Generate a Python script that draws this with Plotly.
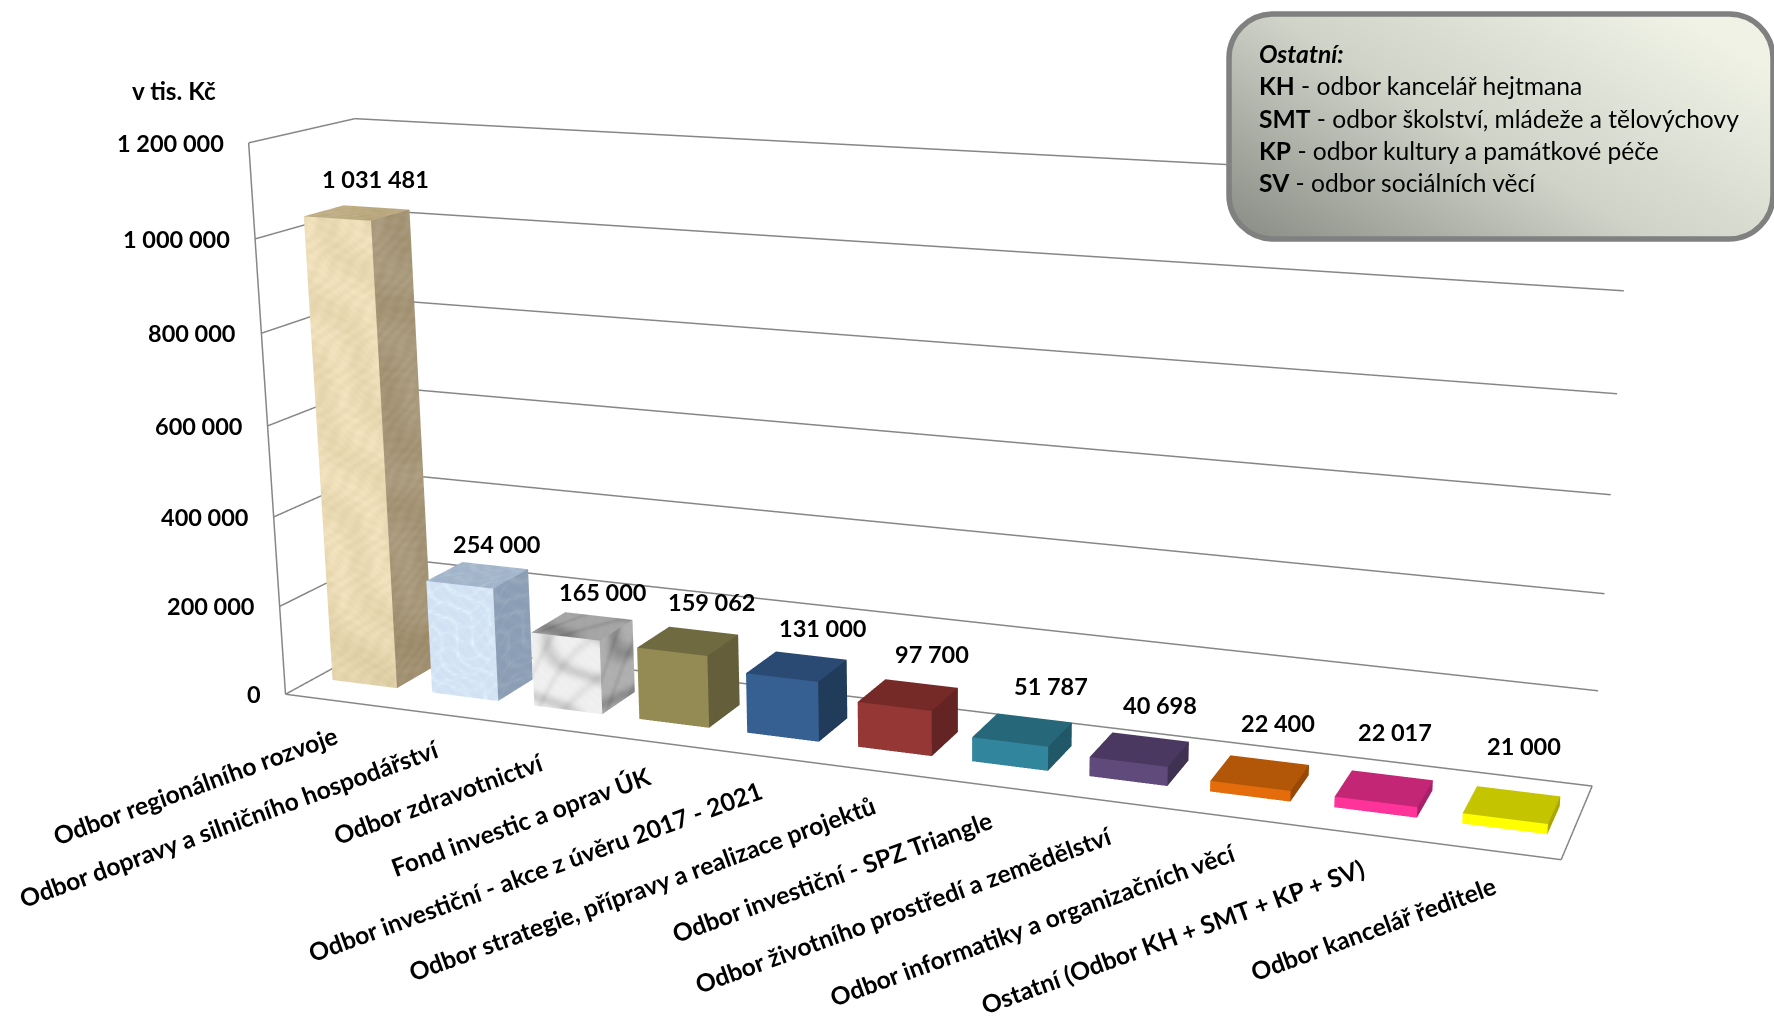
import base64
import numpy as np
import plotly.graph_objects as go

categories = ["Odbor regionálního rozvoje", "Odbor dopravy a silničního hospodářství", "Odbor zdravotnictví",
              "Fond investic a oprav ÚK", "Odbor investiční - akce z úvěru 2017 - 2021",
              "Odbor strategie, přípravy a realizace projektů", "Odbor investiční - SPZ Triangle",
              "Odbor životního prostředí a zemědělství", "Odbor informatiky a organizačních věcí",
              "Ostatní (Odbor KH + SMT + KP + SV)", "Odbor kancelář ředitele"]
values = [1031481, 254000, 165000, 159062, 131000, 97700, 51787, 40698, 22400, 22017, 21000]
z_ticks = [0, 200000, 400000, 600000, 800000, 1000000, 1200000]
front_colors = ["#ecdcb6", "#d6e6f6", "#e8e8e8", "#948a54", "#366092", "#953735", "#31859c", "#604a7b", "#e46c0a", "#ff3399", "#ffff00"]
side_colors = ["#a8987a", "#8fa2b8", "#a8a8a8", "#645f3a", "#203c5a", "#632423", "#205867", "#3f3151", "#984807", "#a6216a", "#a8a800"]
top_colors = ["#c6b48e", "#a6b8cc", "#9e9e9e", "#6f6a40", "#2a4a74", "#752a28", "#26687a", "#4a3860", "#b25608", "#c42676", "#c4c400"]
label_dx = [-0.5, 2, 4.5, 8, 12, 11, 17, 10, 8, 3, 5.5]
label_dy = [28, 22, 23.8, 29, 27.4, 29.2, 32, 31.6, 36.9, 43.2, 45]
legend_lines = [("KH", "odbor kancelář hejtmana"), ("SMT", "odbor školství, mládeže a tělovýchovy"),
                ("KP", "odbor kultury a památkové péče"), ("SV", "odbor sociálních věcí")]

FONT = "Lato"
LW, LH, TOP = 1950, 2351, 652   # plot area bigger than the window: plotly's fixed 45 degree lens
GREY = "#868686"
Y0, Y1, HALF = 0.29, 0.67, 0.325
ZMAX = z_ticks[-1]
N = len(values)


def hexrgb(c):
    return np.array([int(c[i:i + 2], 16) for i in (1, 3, 5)], float)


def face(corners, color, mottle=None, size=(1, 1), step=2.5):
    a, b, c, d = [np.array(p, float) for p in corners]
    nu = max(1, int(size[0] / step)) if mottle else 1
    nv = max(1, int(size[1] / step)) if mottle else 1
    xs, cs = [], []
    for j in range(nv + 1):
        for i in range(nu + 1):
            s, t = i / nu, j / nv
            xs.append((1 - t) * ((1 - s) * a + s * b) + t * ((1 - s) * d + s * c))
            col = hexrgb(color)
            if mottle is not None:
                col = np.clip(col + mottle(s * size[0], t * size[1]), 0, 255)
            cs.append("rgb(%d,%d,%d)" % tuple(col))
    tri = []
    for j in range(nv):
        for i in range(nu):
            p = j * (nu + 1) + i
            tri += [(p, p + 1, p + nu + 2), (p, p + nu + 2, p + nu + 1)]
    return xs, cs, tri


def sand(x, y):
    v = (4 * np.sin(0.11 * x + 0.05 * y + 1.5 * np.sin(0.03 * y - 0.04 * x))
         + 3 * np.sin(0.43 * x - 0.31 * y + 1.7 * np.sin(0.13 * y))
         + 2.5 * np.sin(0.52 * x + 0.61 * y + 2 * np.sin(0.19 * x + 0.07 * y))
         - 10 * max(0.0, 1 - y / 110))
    return np.array([v, v, v * 1.25])


def ice(x, y):
    w = np.sin(0.13 * x + 0.09 * y + 1.6 * np.sin(0.07 * y - 0.05 * x))
    w2 = np.sin(0.08 * x - 0.17 * y + 1.8 * np.sin(0.11 * x))
    v = 14 * (1 - abs(w)) ** 5 + 10 * (1 - abs(w2)) ** 5 - 3 + 2 * np.sin(0.5 * x + 0.37 * y)
    return np.array([v, v, v * 0.6])


def marble(x, y):
    w = 0.5 + 0.5 * np.sin(0.10 * x + 0.06 * y + 2.2 * np.sin(0.035 * y - 0.03 * x))
    w2 = 0.5 + 0.5 * np.sin(0.22 * x - 0.12 * y + 1.4 * np.sin(0.06 * x))
    v = 8 - 34 * w ** 4 - 14 * w2 ** 6 + 1.5 * np.sin(0.6 * x + 0.5 * y)
    return np.array([v, v, v])


# texture, face sizes in pixels: front, side, top
textures = {0: (sand, (62, 540), (35, 540), (62, 32)),
            1: (ice, (66, 132), (35, 132), (66, 36)),
            2: (marble, (66, 88), (35, 88), (66, 36))}

fig = go.Figure()
for i, v in enumerate(values):
    x0, x1 = i + 0.5 - HALF, i + 0.5 + HALF
    tex = textures.get(i)
    kws = [dict(mottle=tex[0], size=tex[k]) for k in (1, 2, 3)] if tex else [{}, {}, {}]
    faces = [
        face([(x0, Y0, 0), (x1, Y0, 0), (x1, Y0, v), (x0, Y0, v)], front_colors[i], **kws[0]),
        face([(x1, Y0, 0), (x1, Y1, 0), (x1, Y1, v), (x1, Y0, v)], side_colors[i], **kws[1]),
        face([(x0, Y0, v), (x1, Y0, v), (x1, Y1, v), (x0, Y1, v)], top_colors[i], **kws[2]),
    ]
    xyz, cols, tris, off = [], [], [], 0
    for xs, cs, tri in faces:
        xyz += xs
        cols += cs
        tris += [(a + off, b + off, c + off) for a, b, c in tri]
        off += len(xs)
    xyz = np.array(xyz)
    tris = np.array(tris)
    fig.add_trace(go.Mesh3d(x=xyz[:, 0], y=xyz[:, 1], z=xyz[:, 2], i=tris[:, 0], j=tris[:, 1], k=tris[:, 2],
                            vertexcolor=cols, flatshading=True, hoverinfo="skip", showscale=False,
                            lighting=dict(ambient=1, diffuse=0, specular=0, roughness=1, fresnel=0)))


def line(xs, ys, zs):
    fig.add_trace(go.Scatter3d(x=xs, y=ys, z=zs, mode="lines", line=dict(color=GREY, width=3),
                               hoverinfo="skip", showlegend=False))


line([0, 0], [0, 0], [0, ZMAX])
line([0, N, N, 0, 0], [0, 0, 1, 1, 0], [0, 0, 0, 0, 0])
for t in z_ticks[1:]:
    end = 7.92 if t == ZMAX else N   # the top gridline runs under the note box
    line([0, 0, end], [0, 1, 1], [t, t, t])

ann3d = []
for t in z_ticks:
    ann3d.append(dict(x=0, y=0, z=t, text="<b>%s</b>" % f"{t:,}".replace(",", " "), showarrow=False,
                      xanchor="right", yanchor="middle", xshift=-23, font=dict(family=FONT, size=23.5, color="black")))
for i, v in enumerate(values):
    ann3d.append(dict(x=i + 0.5, y=Y1, z=v, text="<b>%s</b>" % f"{v:,}".replace(",", " "), showarrow=False,
                      xanchor="center", yanchor="middle", xshift=label_dx[i], yshift=label_dy[i],
                      font=dict(family=FONT, size=23.5, color="black")))
    ann3d.append(dict(x=i + 0.5, y=0, z=0, text="<b>%s</b>" % categories[i], showarrow=False,
                      xanchor="right", yanchor="top", textangle=-20, xshift=8, yshift=-17,
                      font=dict(family=FONT, size=24.7, color="black")))


def P(X, Y):
    return X / LW, 1 - (Y + TOP) / LH


notes = []
lx, ly = P(174, 90)
notes.append(dict(x=lx, y=ly, text="<b>v tis. Kč</b>", font=dict(size=24.3)))
rows = ["<b><i>Ostatní:</i></b>"] + ["<b>%s</b> - %s" % r for r in legend_lines]
for row, Y in zip(rows, [53, 85, 118, 150, 183]):
    nx, ny = P(1257, Y)
    notes.append(dict(x=nx, y=ny, text=row, xanchor="left", font=dict(size=24.6)))
for n in notes:
    n.update(xref="paper", yref="paper", showarrow=False, yanchor="middle")
    n.setdefault("xanchor", "center")
    n["font"] = dict(family=FONT, color="black", **n["font"])

BX0, BY0, BX1, BY1 = 1226, 11, 1776, 242
bw, bh = BX1 - BX0, BY1 - BY0
svg = f'''<svg xmlns="http://www.w3.org/2000/svg" width="{bw}" height="{bh}" viewBox="0 0 {bw} {bh}">
<defs><linearGradient id="g" x1="0" y1="0.95" x2="1" y2="0.25">
<stop offset="0" stop-color="#8b8e86"/><stop offset="0.5" stop-color="#cfd3c8"/><stop offset="1" stop-color="#eff2e5"/></linearGradient></defs>
<rect x="3" y="3" width="{bw - 6}" height="{bh - 6}" rx="44" ry="44" fill="url(#g)" stroke="#808080" stroke-width="5.5"/></svg>'''
src = "data:image/svg+xml;base64," + base64.b64encode(svg.encode()).decode()
ix, iy = P(BX0, BY0)

hidden = dict(visible=False, showgrid=False, zeroline=False, showticklabels=False, autorange=False)
fig.update_layout(
    width=LW, height=LH, autosize=False, margin=dict(l=0, r=0, t=0, b=0), showlegend=False,
    paper_bgcolor="white", plot_bgcolor="white",
    annotations=notes,
    images=[dict(source=src, xref="paper", yref="paper", x=ix, y=iy, sizex=bw / LW, sizey=bh / LH,
                 xanchor="left", yanchor="top", sizing="stretch", layer="below")],
    scene=dict(domain=dict(x=[0, 1], y=[0, 1]), bgcolor="rgba(0,0,0,0)",
               xaxis=dict(range=[0, N], **hidden), yaxis=dict(range=[0, 1], **hidden), zaxis=dict(range=[0, ZMAX], **hidden),
               aspectmode="manual", aspectratio=dict(x=1, y=0.14837, z=0.4361),
               camera=dict(eye=dict(x=0.73048, y=-1.88993, z=0.51375), center=dict(x=0.05011, y=0.00559, z=-0.04615),
                           up=dict(x=-0.09222, y=0.25149, z=0.96346), projection=dict(type="perspective")),
               annotations=ann3d),
)
post = ("var g=document.getElementById('{plot_id}');g.style.marginTop='-%dpx';"
        "document.body.style.margin='0';document.body.style.overflow='hidden';"
        "document.documentElement.style.overflow='hidden';") % TOP
fig.write_html("out.html", post_script=post, config=dict(displayModeBar=False))
